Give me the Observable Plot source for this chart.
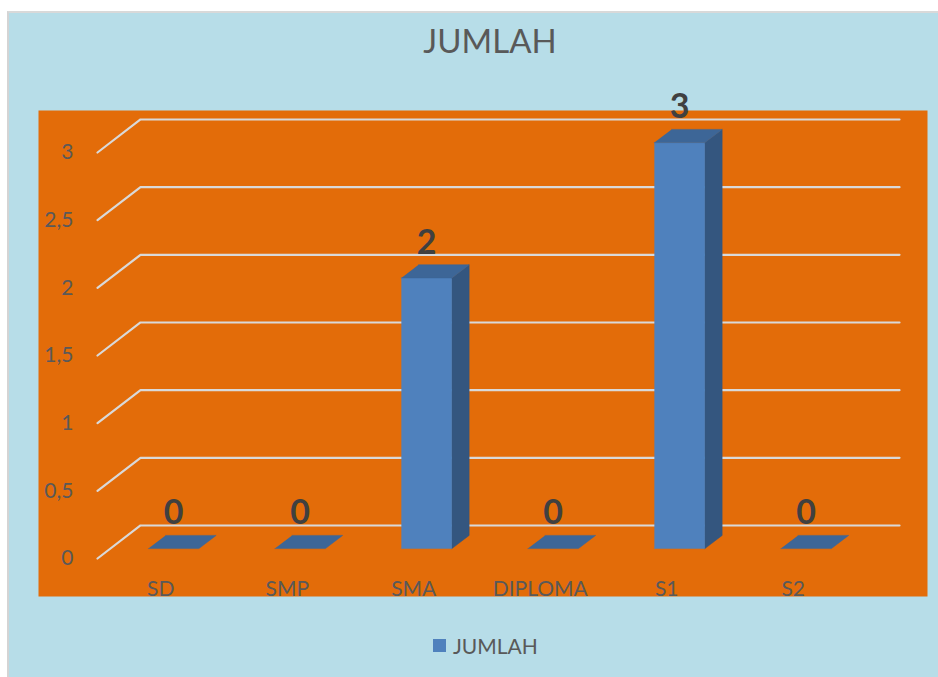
<!DOCTYPE html>
<html>
<head>
<meta charset="utf-8">
<script src="https://cdn.jsdelivr.net/npm/d3@7"></script>
<script src="https://cdn.jsdelivr.net/npm/@observablehq/plot@0.6"></script>
<style>
  html, body { margin: 0; padding: 0; background: #ffffff; }
  #wrap { position: relative; width: 938px; height: 677px; overflow: hidden; font-family: Lato, "Open Sans", sans-serif; }
  #card { position: absolute; left: 7px; top: 11px; width: 940px; height: 680px; background: #b7dde8; border-left: 2px solid #d4d4d4; border-top: 2px solid #d9d9d9; }
  #title { position: absolute; left: 0; width: 980px; top: 20px; text-align: center; font-size: 33px; color: #595959; font-weight: 400; }
  #chart { position: absolute; left: 0; top: 0; }
  #legend { position: absolute; left: 433px; top: 633px; display: flex; align-items: center; font-size: 21px; color: #595959; }
  #legend .sw { width: 13px; height: 13px; background: #4f81bd; margin-right: 7px; }
</style>
</head>
<body>
<div id="wrap">
  <div id="card"></div>
  <div id="title">JUMLAH</div>
  <div id="chart"></div>
  <div id="legend"><div class="sw"></div><span>JUMLAH</span></div>
</div>
<script>
// ---- data ----
const categories = ["SD", "SMP", "SMA", "DIPLOMA", "S1", "S2"];
const values = [0, 0, 2, 0, 3, 0];
const yTicks = [0, 0.5, 1, 1.5, 2, 2.5, 3];
const yTickLabels = ["0", "0,5", "1", "1,5", "2", "2,5", "3"];

// ---- oblique projection in data units (depth z in [0,1]) ----
const DEPTH_X = 0.34;   // category units per unit depth
const DEPTH_Y = 0.244;  // value units per unit depth
const proj = (x, y, z) => ({x: x + z * DEPTH_X, y: y + z * DEPTH_Y});
const Z0 = 0.3, Z1 = 0.7, HALF = 0.2;

// gridlines (diagonal + back horizontal)
const grid = [];
yTicks.forEach((t, k) => {
  const a = proj(0, t, 0), b = proj(0, t, 1), c = proj(categories.length, t, 1);
  grid.push({k, ...a}, {k, ...b}, {k, ...c});
});

// bar faces as polygons
const faces = [];
categories.forEach((c, i) => {
  const v = values[i];
  const xl = i + 0.5 - HALF, xr = i + 0.5 + HALF;
  const pts = (arr, kind) => arr.forEach(([x, y, z]) => faces.push({id: c + kind, kind, ...proj(x, y, z)}));
  if (v > 0) {
    pts([[xl, 0, Z0], [xr, 0, Z0], [xr, v, Z0], [xl, v, Z0]], "front");
    pts([[xr, 0, Z0], [xr, 0, Z1], [xr, v, Z1], [xr, v, Z0]], "side");
  }
  pts([[xl, v, Z0], [xr, v, Z0], [xr, v, Z1], [xl, v, Z1]], "top");
});
const faceColor = {front: "#4f81bd", side: "#34567f", top: "#3d6697"};

const labels = categories.map((c, i) => ({c, v: values[i], front: proj(i + 0.5, 0, 0), top: proj(i + 0.5, values[i], Z0), back: proj(i + 0.5, values[i], Z1)}));

const plot = Plot.plot({
  width: 938,
  height: 677,
  marginLeft: 38, marginRight: 11, marginTop: 110, marginBottom: 81,
  x: {domain: [0, categories.length], range: [97, 856], axis: null},
  y: {domain: [0, 3], range: [558, 152], axis: null},
  style: {background: "transparent", fontFamily: "Lato, 'Open Sans', sans-serif"},
  marks: [
    Plot.frame({fill: "#e36c09", stroke: "none"}),
    Plot.line(grid, {x: "x", y: "y", z: "k", stroke: "#d9d9d9", strokeWidth: 2.2, curve: "linear"}),
    Plot.line(faces, {x: "x", y: "y", z: "id", fill: d => faceColor[d.kind], stroke: d => faceColor[d.kind], strokeWidth: 0.5, curve: "linear"}),
    Plot.text(yTicks, {x: 0, y: d => d, text: (d, i) => yTickLabels[i], textAnchor: "end", dx: -24, fontSize: 21, fill: "#595959"}),
    Plot.text(labels, {x: d => d.front.x, y: 0, text: "c", dy: 31, fontSize: 21, fill: "#595959"}),
    Plot.text(labels, {x: d => d.top.x, y: d => d.back.y, text: d => String(d.v), dy: -22, fontSize: 34, fontWeight: "bold", fill: "#404040"})
  ]
});
document.getElementById("chart").appendChild(plot);
</script>
</body>
</html>
